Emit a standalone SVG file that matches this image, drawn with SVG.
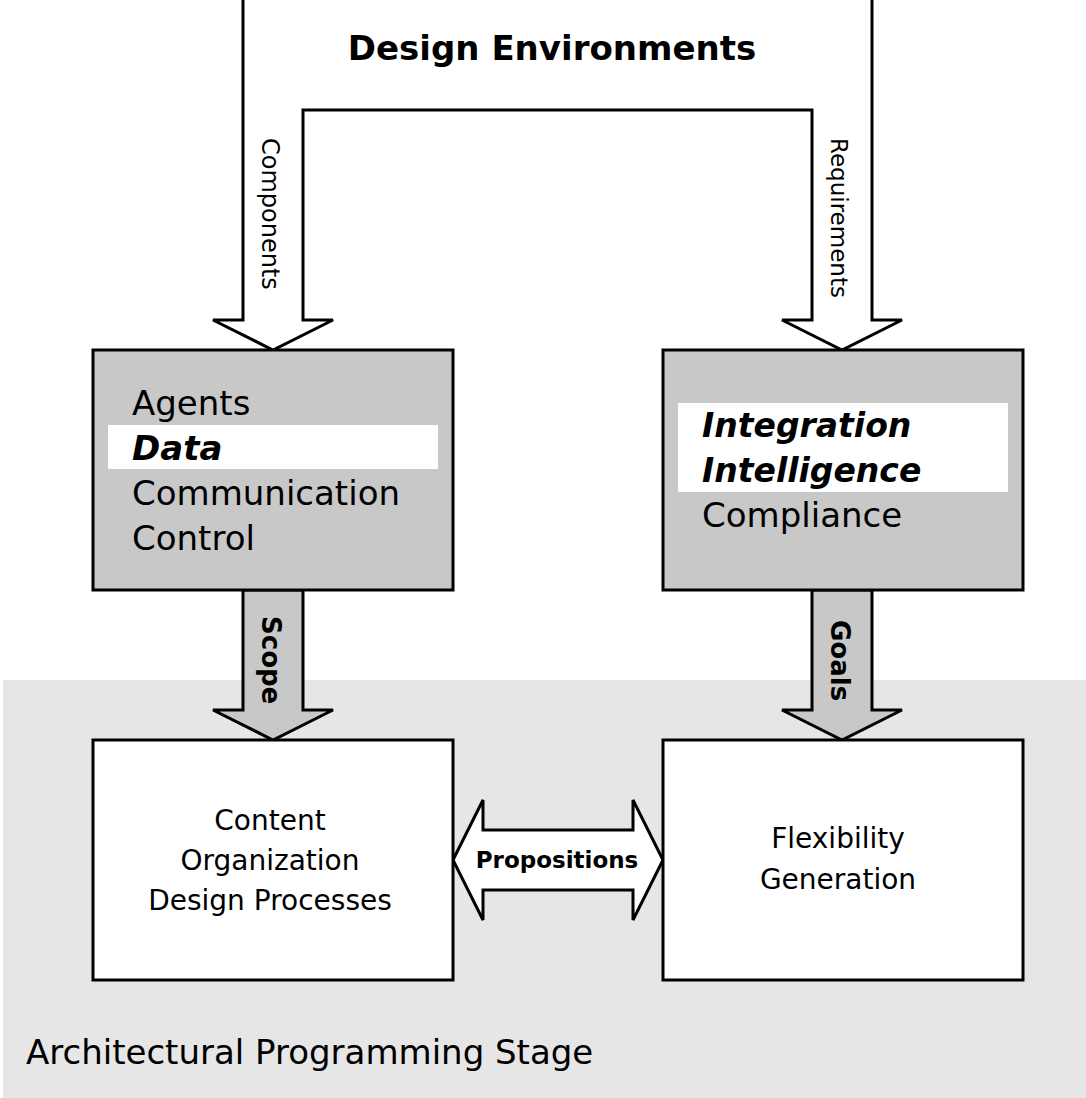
<svg xmlns="http://www.w3.org/2000/svg" width="1086" height="1098" viewBox="0 0 1086 1098">
<style>
.t{font-family:"DejaVu Sans",Verdana,sans-serif;fill:#000}
.s{stroke:#000;stroke-width:3}
</style>
<rect width="1086" height="1098" fill="#fff"/>
<rect x="3" y="680" width="1083" height="418" fill="#e6e6e6"/>
<text class="t" x="26" y="1064" font-size="34">Architectural Programming Stage</text>
<g id="connectors">
<path class="s" fill="#fff" d="M243 0V320H213L273 350L333 320H303V110H812V320H782L842 350L902 320H872V0"/>
<text class="t" font-size="24" transform="translate(262,138) rotate(90)">Components</text>
<text class="t" font-size="23" transform="translate(831,138) rotate(90)">Requirements</text>
<path class="s" fill="#c8c8c8" d="M243 590V710H213L273 740L333 710H303V590Z"/>
<path class="s" fill="#c8c8c8" d="M812 590V710H782L842 740L902 710H872V590Z"/>
<text class="t" font-size="26" font-weight="bold" transform="translate(262,616) rotate(90)">Scope</text>
<text class="t" font-size="26" font-weight="bold" transform="translate(831,620) rotate(90)">Goals</text>
<path class="s" fill="#fff" d="M453 860L483 800V830H633V800L663 860L633 920V890H483V920Z"/>
<text class="t" x="557" y="868" font-size="23" font-weight="bold" text-anchor="middle">Propositions</text>
</g>
<text class="t" x="552" y="60" font-size="34" font-weight="bold" text-anchor="middle">Design Environments</text>
<g id="left-top">
<rect class="s" x="93" y="350" width="360" height="240" fill="#c8c8c8"/>
<rect x="108" y="425" width="330" height="44" fill="#fff"/>
<text class="t" x="132" y="415" font-size="34">Agents</text>
<text class="t" x="132" y="460" font-size="34" font-weight="bold" font-style="italic">Data</text>
<text class="t" x="132" y="505" font-size="34">Communication</text>
<text class="t" x="132" y="550" font-size="34">Control</text>
</g>
<g id="right-top">
<rect class="s" x="663" y="350" width="360" height="240" fill="#c8c8c8"/>
<rect x="678" y="403" width="330" height="89" fill="#fff"/>
<text class="t" x="702" y="437" font-size="33" font-weight="bold" font-style="italic">Integration</text>
<text class="t" x="702" y="482" font-size="33" font-weight="bold" font-style="italic">Intelligence</text>
<text class="t" x="702" y="527" font-size="34">Compliance</text>
</g>
<g id="left-bottom">
<rect class="s" x="93" y="740" width="360" height="240" fill="#fff"/>
<text class="t" x="270" y="830" font-size="28" text-anchor="middle">Content</text>
<text class="t" x="270" y="870" font-size="28" text-anchor="middle">Organization</text>
<text class="t" x="270" y="910" font-size="28" text-anchor="middle">Design Processes</text>
</g>
<g id="right-bottom">
<rect class="s" x="663" y="740" width="360" height="240" fill="#fff"/>
<text class="t" x="838" y="848" font-size="28" text-anchor="middle">Flexibility</text>
<text class="t" x="838" y="889" font-size="28" text-anchor="middle">Generation</text>
</g>
</svg>
